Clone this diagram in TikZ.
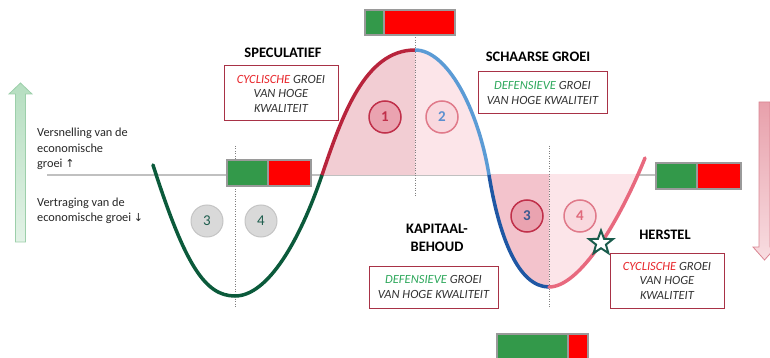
\documentclass[tikz,border=0pt]{standalone}
\usepackage{fontspec}
\setmainfont{Carlito}
\newfontfamily\symf{DejaVu Sans}
\usetikzlibrary{shapes.geometric}
\definecolor{axisgrey}{HTML}{C0C0C0}
\definecolor{dotgrey}{HTML}{7F7F7F}
\definecolor{curvegreen}{HTML}{0B5A3B}
\definecolor{curvered}{HTML}{B8243C}
\definecolor{curveblue}{HTML}{5B9BD5}
\definecolor{curvedblue}{HTML}{1F57A4}
\definecolor{curvepink}{HTML}{E8697E}
\definecolor{humpL}{HTML}{F2CDD3}
\definecolor{humpR}{HTML}{FCE5E9}
\definecolor{lowL}{HTML}{F3C3CC}
\definecolor{lowR}{HTML}{FCE5E9}
\definecolor{boxred}{HTML}{A83246}
\definecolor{txtgrey}{HTML}{333333}
\definecolor{cycred}{HTML}{E8252A}
\definecolor{defgreen}{HTML}{2EA85C}
\definecolor{bargreen}{HTML}{33994A}
\definecolor{barred}{HTML}{FF0000}
\definecolor{barframe}{HTML}{9A9A9A}
\definecolor{cdark}{HTML}{EAA3B0}
\definecolor{cdarkline}{HTML}{C0304A}
\definecolor{clight}{HTML}{F9D8DE}
\definecolor{clightline}{HTML}{E07A8A}
\definecolor{cgrey}{HTML}{D9D9D9}
\definecolor{cgreyline}{HTML}{C4C4C4}
\definecolor{cgreytxt}{HTML}{1E5E4E}
\definecolor{c2txt}{HTML}{5B8FD0}
\definecolor{c3txt}{HTML}{3A5A90}
\definecolor{c4txt}{HTML}{E06A7C}
\definecolor{stargreen}{HTML}{1A5C4C}
\definecolor{arrgreenT}{HTML}{B5DEC0}
\definecolor{arrgreenB}{HTML}{E2F2E6}
\definecolor{arrgreenL}{HTML}{9CCFAA}
\definecolor{arrpinkT}{HTML}{E8A0AB}
\definecolor{arrpinkB}{HTML}{F8DDE1}
\definecolor{arrpinkL}{HTML}{D98592}
\tikzset{
  curve/.style={line width=3.5pt, line cap=round},
  dotline/.style={dotgrey, line width=0.6pt, dash pattern=on 1pt off 1.5pt},
  barpart/.style={draw=barframe, line width=2pt, inner sep=0pt, minimum height=25pt},
  textbox/.style={draw=boxred, line width=1pt, fill=white, inner sep=0pt, align=center,
     font=\fontsize{12.5}{14.5}\selectfont\itshape, text=txtgrey},
  heading/.style={font=\fontsize{14.5}{17.4}\selectfont\bfseries, align=center, inner sep=0pt},
  numc/.style={circle, minimum size=32pt, inner sep=0pt, line width=1.5pt,
     font=\fontsize{15}{15}\selectfont\bfseries},
  numg/.style={circle, minimum size=32pt, inner sep=0pt, line width=1pt,
     fill=cgrey, draw=cgreyline, text=cgreytxt, font=\fontsize{15}{15}\selectfont},
  sidelabel/.style={font=\fontsize{12.3}{15.5}\selectfont, align=left, inner sep=0pt, text=black!85}
}
\begin{document}
\begin{tikzpicture}[x=1pt,y=-1pt]
\useasboundingbox (0,0) rectangle (770,358);
\clip (0,0) rectangle (770,358);

% side arrows
\shade[top color=arrgreenT, bottom color=arrgreenB, draw=arrgreenL, line width=0.8pt]
  (15.5,242) -- (15.5,94) -- (9,94) -- (20.5,83) -- (32,94) -- (25.5,94) -- (25.5,242) -- cycle;
\shade[top color=arrpinkT, bottom color=arrpinkB, draw=arrpinkL, line width=0.8pt]
  (759,102) -- (759,247) -- (753,247) -- (764.5,260) -- (776,247) -- (770,247) -- (770,102) -- cycle;

% axis
\draw[axisgrey, line width=1.4pt] (47,175) -- (655,175);

% hump fill
\fill[humpR] (322,175) .. controls (342,116) and (365,50) .. (415,50)
  .. controls (447,50) and (478,108) .. (489,175) -- cycle;
\begin{scope}
\clip (300,0) rectangle (415,176);
\fill[humpL] (322,175) .. controls (342,116) and (365,50) .. (415,50)
  .. controls (447,50) and (478,108) .. (489,175) -- cycle;
\end{scope}
% lower fill
\begin{scope}
\clip (480,175) rectangle (660,300);
\fill[lowR] (489,175) .. controls (499,236) and (518,287) .. (549,287)
  .. controls (580,287) and (620,220) .. (645,158) -- cycle;
\end{scope}
\begin{scope}
\clip (480,175) rectangle (549,300);
\fill[lowL] (489,175) .. controls (499,236) and (518,287) .. (549,287)
  .. controls (580,287) and (620,220) .. (645,158) -- cycle;
\end{scope}

% dotted verticals
\draw[dotline] (235,146) -- (235,308);
\draw[dotline] (415,35) -- (415,196);
\draw[dotline] (549,146) -- (549,308);

% the curve
\draw[curve, curvegreen] (153,165) .. controls (185,265) and (205,296) .. (235,296)
  .. controls (268,296) and (300,240) .. (322,175);
\draw[curve, curvered, line cap=butt] (322,175) .. controls (342,116) and (365,50) .. (415,50);
\draw[curve, curveblue, line cap=butt] (415,50) .. controls (447,50) and (478,108) .. (489,175);
\draw[curve, curvedblue, line cap=butt] (489,175) .. controls (499,236) and (518,287) .. (549,287);
\draw[curve, curvepink] (549,287) .. controls (580,287) and (620,220) .. (645,158);

% numbered circles
\node[numc, fill=cdark, draw=cdarkline, text=cdarkline] (n1) at (385,117) {1};
\node[numc, fill=clight, draw=clightline, text=c2txt] (n2) at (442,117) {2};
\node[numc, fill=cdark, draw=cdarkline, text=c3txt] (n3) at (527,216) {3};
\node[numc, fill=clight, draw=clightline, text=c4txt] (n4) at (580,216) {4};
\node[numg] (g3) at (207,221) {3};
\node[numg] (g4) at (261,221) {4};

% star
\node[star, star points=5, star point ratio=2.4, draw=stargreen, line width=2pt, fill=white,
  minimum size=25pt, inner sep=0pt] (star) at (601,243) {};

% bars
\node[barpart, fill=bargreen, minimum width=19pt, anchor=north west] (topG) at (364,9) {};
\node[barpart, fill=barred, minimum width=71pt, anchor=north west] (topR) at (383,9) {};
\node[barpart, fill=bargreen, minimum width=41pt, minimum height=26pt, anchor=north west] (leftG) at (226,159) {};
\node[barpart, fill=barred, minimum width=43pt, minimum height=26pt, anchor=north west] (leftR) at (267,159) {};
\node[barpart, fill=bargreen, minimum width=41pt, minimum height=26pt, anchor=north west] (rightG) at (655,162) {};
\node[barpart, fill=barred, minimum width=44pt, minimum height=26pt, anchor=north west] (rightR) at (696,162) {};
\node[barpart, fill=bargreen, minimum width=71pt, minimum height=26pt, anchor=north west] (botG) at (496,333) {};
\node[barpart, fill=barred, minimum width=20pt, minimum height=26pt, anchor=north west] (botR) at (567,333) {};

% headings
\node[heading] (hspec) at (283,53) {SPECULATIEF};
\node[heading] (hscha) at (538,57) {SCHAARSE GROEI};
\node[heading] (hkap) at (437,238) {KAPITAAL-\\BEHOUD};
\node[heading] (hher) at (665,235) {HERSTEL};

% text boxes
\node[textbox, minimum width=114pt, minimum height=55pt] (b1) at (281,93.5)
  {{\color{cycred}CYCLISCHE} GROEI\\VAN HOGE\\KWALITEIT};
\node[textbox, minimum width=129pt, minimum height=42pt] (b2) at (542.5,93)
  {{\color{defgreen}DEFENSIEVE} GROEI\\VAN HOGE KWALITEIT};
\node[textbox, minimum width=129pt, minimum height=42pt] (b3) at (433.5,287)
  {{\color{defgreen}DEFENSIEVE} GROEI\\VAN HOGE KWALITEIT};
\node[textbox, minimum width=114pt, minimum height=55pt] (b4) at (667,280.5)
  {{\color{cycred}CYCLISCHE} GROEI\\VAN HOGE\\KWALITEIT};

% side labels
\node[sidelabel, anchor=west] (lup) at (37,149) {Versnelling van de\\economische\\groei {\symf\fontsize{11}{11}\selectfont ↑}};
\node[sidelabel, anchor=west] (ldown) at (37,211) {Vertraging van de\\economische groei {\symf\fontsize{11}{11}\selectfont ↓}};
\end{tikzpicture}
\end{document}
